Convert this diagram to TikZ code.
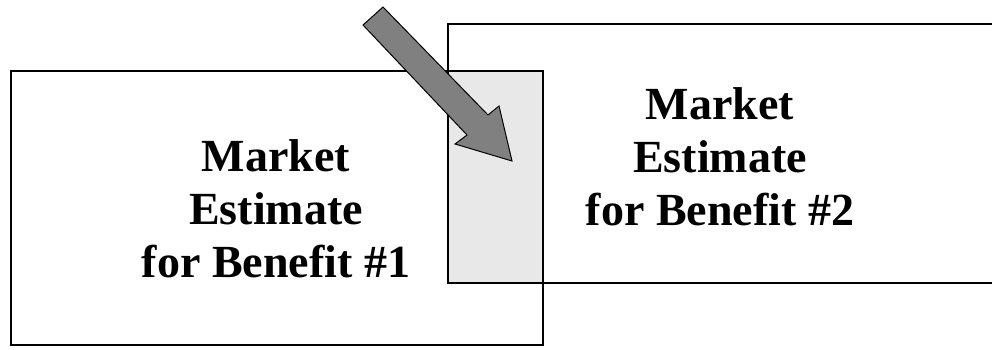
\documentclass[tikz,border=0pt]{standalone}
\usepackage{fontspec}
\setmainfont{Liberation Serif}
\begin{document}
\begin{tikzpicture}[x=1pt,y=1pt,
  panel/.style={draw=black, line width=1.5pt},
  label/.style={font=\fontsize{46}{53}\selectfont\bfseries, align=center, inner sep=0pt},
  blockarrow/.style={fill=black!50, draw=black, line width=1pt, line join=miter}]
  \useasboundingbox (0,0) rectangle (992,349);
  \clip (0,0) rectangle (992,349);
  % shaded overlap of the two estimates
  \fill[black!9] (448,66) rectangle (543,278);
  % the two market estimate boxes
  \draw[panel] (11,4) rectangle (543,278);
  \draw[panel] (448,66) rectangle (1005,325);
  \node[label] (est1) at (276,140) {Market\\Estimate\\for Benefit \#1};
  \node[label] (est2) at (720,192) {Market\\Estimate\\for Benefit \#2};
  % block arrow pointing into the overlap
  \draw[blockarrow] (363,324) -- (383,342) -- (488,234) -- (499,243)
    -- (512,188) -- (455,205) -- (467,214) -- cycle;
\end{tikzpicture}
\end{document}
